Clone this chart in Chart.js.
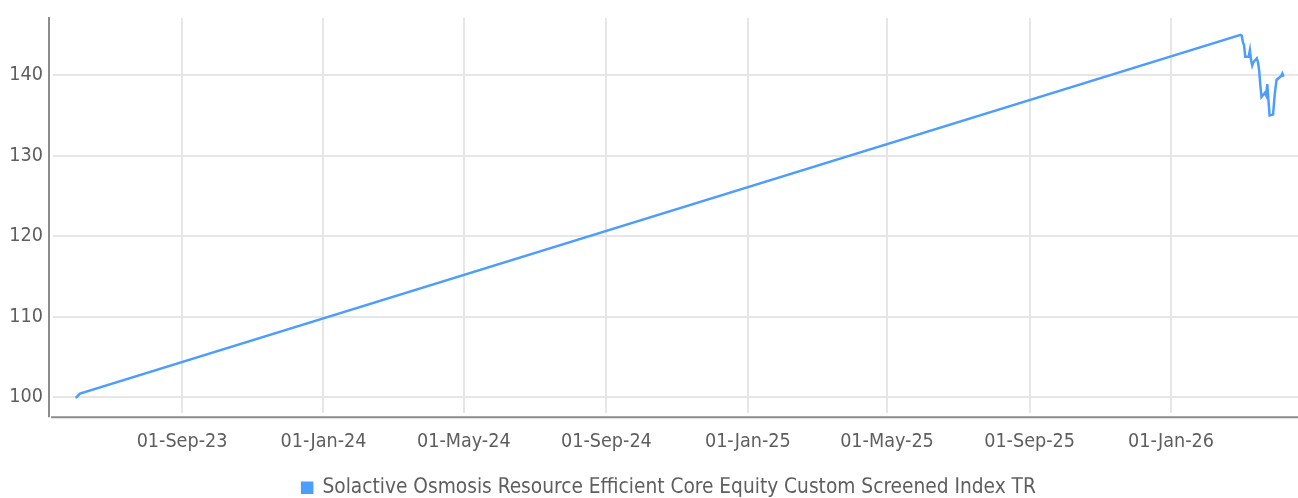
<!DOCTYPE html>
<html>
<head>
<meta charset="utf-8">
<script src="https://cdn.jsdelivr.net/npm/chart.js@4"></script>
<style>
  html, body { margin: 0; padding: 0; background: #fff; }
  #wrap { width: 1298px; height: 498px; position: relative; }
</style>
</head>
<body>
<div id="wrap"><canvas id="indexChart"></canvas></div>
<script>
// series: trade dates and index levels
const seriesName = 'Solactive Osmosis Resource Efficient Core Equity Custom Screened Index TR';
const dates = [
    '2023-06-01', '2023-06-02', '2023-06-05',
    '2026-03-02', '2026-03-03', '2026-03-04', '2026-03-05', '2026-03-06',
    '2026-03-09', '2026-03-10', '2026-03-11', '2026-03-12', '2026-03-13',
    '2026-03-16', '2026-03-17', '2026-03-18', '2026-03-19', '2026-03-20',
    '2026-03-23', '2026-03-24', '2026-03-25', '2026-03-26', '2026-03-27',
    '2026-03-30', '2026-03-31', '2026-04-01', '2026-04-02',
    '2026-04-06', '2026-04-07', '2026-04-08'
];
const values = [
    100.0, 100.0, 100.45,
    145.0, 144.9, 144.1, 143.7, 142.3,
    142.3, 143.1, 141.9, 141.2, 141.6,
    142.1, 141.6, 140.6, 138.8, 137.3,
    137.8, 137.5, 138.9, 136.9, 135.0,
    135.1, 136.9, 138.3, 139.4,
    139.9, 140.2, 139.8
];

// axis ticks
const xTickDates = ['2023-09-01', '2024-01-01', '2024-05-01', '2024-09-01', '2025-01-01', '2025-05-01', '2025-09-01', '2026-01-01'];
const xTickLabels = ['01-Sep-23', '01-Jan-24', '01-May-24', '01-Sep-24', '01-Jan-25', '01-May-25', '01-Sep-25', '01-Jan-26'];
const yTicks = [100, 110, 120, 130, 140];

const dayNum = s => Date.parse(s + 'T00:00:00Z') / 864e5;

const points = dates.map((d, i) => ({ x: dayNum(d), y: values[i] }));
const tickDays = xTickDates.map(dayNum);

const FONT = '"DejaVu Sans Condensed", sans-serif';
const TEXT = '#5e5e5e';
const GRID = '#e6e6e6';
const AXIS = '#8c8c8c';

// axis lines sit a little outside the plot area, like the original
const axisLines = {
    id: 'axisLines',
    afterLayout(chart) {
        // legend is centred over the plot area, not the whole canvas
        chart.legend.left += 20;
        chart.legend.right += 20;
    },
    afterDraw(chart) {
        const { ctx, chartArea: a } = chart;
        ctx.save();
        ctx.strokeStyle = AXIS;
        ctx.lineWidth = 2;
        ctx.beginPath();
        ctx.moveTo(a.left - 4, a.top - 1);
        ctx.lineTo(a.left - 4, a.bottom + 4);
        ctx.moveTo(a.left - 2, a.bottom + 4);
        ctx.lineTo(a.right, a.bottom + 4);
        ctx.stroke();
        ctx.restore();
    }
};

new Chart(document.getElementById('indexChart'), {
    type: 'line',
    data: {
        datasets: [{
            label: seriesName,
            data: points,
            borderColor: '#4d9dfc',
            backgroundColor: '#4d9dfc',
            borderWidth: 2.5,
            pointRadius: 0,
            tension: 0,
            fill: false
        }]
    },
    options: {
        responsive: true,
        maintainAspectRatio: false,
        animation: false,
        layout: { padding: { top: 18, right: 0, left: 0, bottom: -10 } },
        scales: {
            x: {
                type: 'linear',
                min: dayNum('2023-09-01') - 111.3,
                max: dayNum('2026-01-01') + 109.5,
                afterBuildTicks: s => { s.ticks = tickDays.map(v => ({ value: v })); },
                afterFit: s => { s.height = 64; s.paddingLeft = 0; s.paddingRight = 0; },
                grid: { color: GRID, lineWidth: 2, drawTicks: false },
                border: { display: false },
                ticks: {
                    padding: 17,
                    color: TEXT,
                    font: { family: FONT, size: 19.6 },
                    maxRotation: 0,
                    autoSkip: false,
                    callback: (v, i) => xTickLabels[i]
                }
            },
            y: {
                min: 98,
                max: 147.1,
                afterBuildTicks: s => { s.ticks = yTicks.map(v => ({ value: v })); },
                afterFit: s => { s.width = 53; s.paddingTop = 0; s.paddingBottom = 0; },
                grid: { color: GRID, lineWidth: 2, drawTicks: false },
                border: { display: false },
                ticks: {
                    padding: 10,
                    color: TEXT,
                    font: { family: FONT, size: 19.6 }
                }
            }
        },
        plugins: {
            legend: {
                position: 'bottom',
                labels: {
                    boxWidth: 10,
                    boxHeight: 10,
                    padding: 0,
                    color: TEXT,
                    font: { family: FONT, size: 20.7 }
                }
            },
            tooltip: { enabled: false }
        }
    },
    plugins: [axisLines]
});
</script>
</body>
</html>
